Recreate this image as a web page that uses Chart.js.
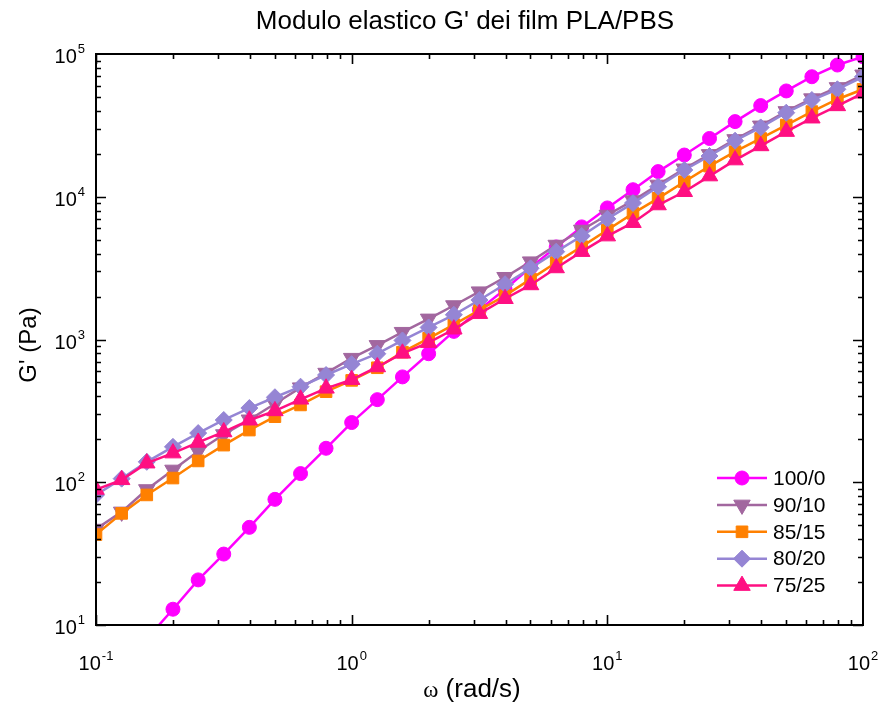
<!DOCTYPE html>
<html>
<head>
<meta charset="utf-8">
<script src="https://cdn.jsdelivr.net/npm/chart.js@4.4.1/dist/chart.umd.min.js"></script>
<style>
  html, body { margin: 0; padding: 0; background: #ffffff; }
  canvas { display: block; }
</style>
</head>
<body>
<canvas id="chart" width="882" height="708"></canvas>
<script>
// Angular frequency (rad/s), 10 points per decade
const omega = [0.1, 0.126, 0.158, 0.2, 0.251, 0.316, 0.398, 0.501, 0.631, 0.794,
               1, 1.26, 1.58, 2, 2.51, 3.16, 3.98, 5.01, 6.31, 7.94,
               10, 12.6, 15.8, 20, 25.1, 31.6, 39.8, 50.1, 63.1, 79.4, 100];

// Storage modulus G' (Pa) for each PLA/PBS blend ratio
const g100_0 = [null, null, 8.0, 12.9, 20.7, 31.4, 48.3, 75.9, 115, 173,
                262, 379, 547, 795, 1140, 1620, 2250, 3200, 4450, 6150,
                8350, 11200, 15000, 19600, 25600, 33600, 43500, 55100, 69300, 83700, 95700];
const g90_10 = [47, 62, 89, 122, 165, 216, 274, 355, 460, 582,
                740, 910, 1125, 1395, 1730, 2163, 2730, 3510, 4590, 5850,
                7450, 9400, 12100, 15700, 19800, 25200, 31400, 39600, 48700, 58300, 71500];
const g85_15 = [43, 60.5, 81.5, 107, 141, 182, 232, 288, 348, 431,
                517, 634, 815, 1020, 1270, 1610, 2030, 2650, 3460, 4470,
                5850, 7650, 9750, 12740, 16400, 20700, 25600, 31800, 39500, 48200, 56600];
const g80_20 = [81.5, 106, 139, 177, 221, 273, 331, 394, 467, 564,
                672, 795, 985, 1215, 1490, 1892, 2440, 3155, 4125, 5310,
                7000, 9030, 11750, 15400, 19300, 24700, 30600, 38800, 47600, 56600, 69300];
const g75_25 = [89, 104, 136, 160, 190, 225, 272, 316, 381, 455,
                523, 642, 800, 950, 1180, 1517, 1930, 2410, 3170, 4125,
                5300, 6580, 8750, 10840, 13960, 18070, 22700, 28600, 35500, 43300, 53100];

const seriesNames = ['100/0', '90/10', '85/15', '80/20', '75/25'];
const seriesValues = [g100_0, g90_10, g85_15, g80_20, g75_25];

// Axis decades (exponents of the tick labels)
const xDecades = [-1, 0, 1, 2];
const yDecades = [1, 2, 3, 4, 5];

const TITLE = "Modulo elastico G' dei film PLA/PBS";
const Y_TITLE = "G' (Pa)";
const X_TITLE_SYMBOL = "\u03C9";
const X_TITLE_REST = " (rad/s)";

const styles = [
  { color: '#FF00FF', pointStyle: 'circle',   radius: 7,   rotation: 0 },
  { color: '#A2679F', pointStyle: 'triangle', radius: 9.5, rotation: 180 },
  { color: '#FF8000', pointStyle: 'rect',     radius: 8.2, rotation: 0 },
  { color: '#9585D4', pointStyle: 'rectRot',  radius: 8.5, rotation: 0 },
  { color: '#FF0F82', pointStyle: 'triangle', radius: 9.5, rotation: 0 }
];

const SANS = '"Liberation Sans", Arial, sans-serif';
const SERIF = '"Liberation Serif", "Times New Roman", serif';

const datasets = seriesNames.map((name, i) => ({
  label: name,
  data: omega.map((w, k) => ({ x: w, y: seriesValues[i][k] })),
  borderColor: styles[i].color,
  backgroundColor: styles[i].color,
  borderWidth: 2.5,
  tension: 0,
  pointStyle: styles[i].pointStyle,
  pointRadius: styles[i].radius,
  pointRotation: styles[i].rotation,
  pointBackgroundColor: styles[i].color,
  pointBorderColor: styles[i].color,
  pointBorderWidth: 1,
  clip: 0,
  order: seriesNames.length - i
}));

// "10" with a raised exponent
function drawPow(ctx, exp, x, y, align) {
  const base = '10';
  const sup = String(exp);
  ctx.font = '20px ' + SANS;
  const wb = ctx.measureText(base).width;
  ctx.font = '13px ' + SANS;
  const ws = ctx.measureText(sup).width;
  const start = align === 'center' ? x - (wb + ws + 1) / 2 : x - (wb + ws + 1);
  ctx.textAlign = 'left';
  ctx.textBaseline = 'alphabetic';
  ctx.font = '20px ' + SANS;
  ctx.fillText(base, start, y);
  ctx.font = '13px ' + SANS;
  ctx.fillText(sup, start + wb + 1, y - 10);
}

const framePlugin = {
  id: 'frame',
  afterDraw(chart) {
    const ctx = chart.ctx;
    const a = chart.chartArea;
    const xs = chart.scales.x, ys = chart.scales.y;
    ctx.save();
    ctx.fillStyle = '#000';
    ctx.strokeStyle = '#000';

    // ticks on all four sides, pointing inwards
    ctx.lineWidth = 1.6;
    ctx.beginPath();
    for (let d = -1; d < 2; d++) {
      for (let m = 1; m <= 9; m++) {
        const px = Math.round(xs.getPixelForValue(m * Math.pow(10, d))) + 0.5;
        const len = m === 1 ? 10 : 5;
        ctx.moveTo(px, a.bottom); ctx.lineTo(px, a.bottom - len);
        ctx.moveTo(px, a.top); ctx.lineTo(px, a.top + len);
      }
    }
    for (let d = 1; d < 5; d++) {
      for (let m = 1; m <= 9; m++) {
        const py = Math.round(ys.getPixelForValue(m * Math.pow(10, d))) + 0.5;
        const len = m === 1 ? 10 : 5;
        ctx.moveTo(a.left, py); ctx.lineTo(a.left + len, py);
        ctx.moveTo(a.right, py); ctx.lineTo(a.right - len, py);
      }
    }
    ctx.stroke();

    // frame
    ctx.lineWidth = 2;
    ctx.strokeRect(a.left, a.top, a.right - a.left, a.bottom - a.top);

    // tick labels
    xDecades.forEach(e => {
      drawPow(ctx, e, xs.getPixelForValue(Math.pow(10, e)), a.bottom + 45, 'center');
    });
    yDecades.forEach(e => {
      drawPow(ctx, e, a.left - 11, ys.getPixelForValue(Math.pow(10, e)) + 9, 'right');
    });

    // title
    ctx.font = '26px ' + SANS;
    ctx.textAlign = 'center';
    ctx.textBaseline = 'alphabetic';
    ctx.fillText(TITLE, 465, 29);

    // y-axis title
    ctx.save();
    ctx.translate(36, 345);
    ctx.rotate(-Math.PI / 2);
    ctx.font = '24px ' + SANS;
    ctx.textAlign = 'center';
    ctx.textBaseline = 'alphabetic';
    ctx.fillText(Y_TITLE, 0, 0);
    ctx.restore();

    // x-axis title
    ctx.font = '23px ' + SERIF;
    const w1 = ctx.measureText(X_TITLE_SYMBOL).width;
    ctx.font = '26px ' + SANS;
    const w2 = ctx.measureText(X_TITLE_REST).width;
    const sx = 472 - (w1 + w2) / 2;
    ctx.textAlign = 'left';
    ctx.font = '23px ' + SERIF;
    ctx.fillText(X_TITLE_SYMBOL, sx, 697);
    ctx.font = '26px ' + SANS;
    ctx.fillText(X_TITLE_REST, sx + w1, 697);

    // legend inside the plot area
    seriesNames.forEach((name, i) => {
      const y = 478 + i * 26.9;
      const st = styles[i];
      ctx.strokeStyle = st.color;
      ctx.fillStyle = st.color;
      ctx.lineWidth = 2.5;
      ctx.beginPath();
      ctx.moveTo(717, y); ctx.lineTo(767, y);
      ctx.stroke();
      ctx.lineWidth = 1;
      Chart.helpers.drawPoint(ctx, {
        pointStyle: st.pointStyle, rotation: st.rotation,
        radius: st.radius, borderWidth: 1
      }, 742, y);
      ctx.fillStyle = '#000';
      ctx.font = '21px ' + SANS;
      ctx.textAlign = 'left';
      ctx.textBaseline = 'middle';
      ctx.fillText(name, 773, y + 1);
    });
    ctx.restore();
  }
};

new Chart(document.getElementById('chart'), {
  type: 'line',
  data: { datasets },
  options: {
    responsive: false,
    animation: false,
    layout: { padding: { top: 54, right: 19, left: 0, bottom: 0 } },
    plugins: {
      legend: { display: false },
      title: { display: false },
      tooltip: { enabled: false }
    },
    scales: {
      x: {
        type: 'logarithmic', min: 0.1, max: 100,
        grid: { display: false }, border: { display: false },
        ticks: { display: false },
        afterFit(s) { s.height = 83; }
      },
      y: {
        type: 'logarithmic', min: 10, max: 100000,
        grid: { display: false }, border: { display: false },
        ticks: { display: false },
        afterFit(s) { s.width = 96; }
      }
    }
  },
  plugins: [framePlugin]
});
</script>
</body>
</html>
